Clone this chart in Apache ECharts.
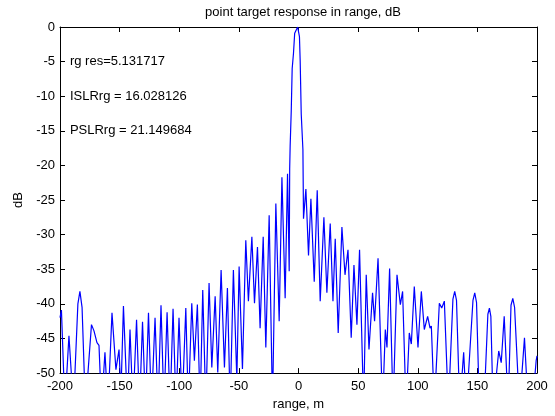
<!DOCTYPE html>
<html>
<head>
<meta charset="utf-8">
<script src="https://cdn.jsdelivr.net/npm/echarts@6/dist/echarts.min.js"></script>
<style>
  html, body { margin: 0; padding: 0; background: #fff; }
  #chart { width: 555px; height: 416px; }
</style>
</head>
<body>
<div id="chart"></div>
<script>
// ---- data (range in m, level in dB) ----
const rangeM = [
  -200, -198.8, -195.9, -192.5, -188.7, -185, -183.3, -181.5, -178.7, -173.6, -171.5, -169.0, -167.3, -165.2, -162.3, -159.8,
  -156.4, -153.1, -150.5, -148.9, -146.8, -143.4, -141.3, -138.8, -135.8, -133.3, -130.8, -128.3, -125.8, -123.3, -120.3, -117.8, -115.3, -112.8, -110.2, -107.7, -105.2, -102.7, -100.2, -97.6,
  -94.5, -92.4, -89.5, -87.3, -84.8, -82.5, -80.3, -77.7, -75.0, -72.7, -69.9, -67.7, -64.9, -62.1, -59.6, -57.3, -54.6, -51.7, -49.8, -47.0,
  -44.2, -42.0, -39.1, -36.9, -34.4, -32.2, -29.6, -27.4, -24.6, -21.8, -19.0, -16.2, -13.9, -11.2, -9.2, -7.8,
  -7.4, -7.0, -6.1, -5.3, -4.2, -3.2, -0.7, 0.8, 1.4, 2.3, 3.7, 4.2,
  6.2, 8.4, 10.4, 13.2, 15.7, 18.2, 21.3, 23.8, 26.6, 28.9, 30.8, 33.3, 36.4, 39.0, 41.5, 44.2, 46.5, 49.0, 51.2, 54.6,
  56.8, 59.1, 62.1, 63.8, 66.7, 70.5, 72.8, 74.2, 76.4, 79.3, 82.6, 85.4, 87.3, 90.2, 92.9, 94.6, 97.1, 100.2,
  103.0, 105.5, 108.3, 110.3, 111.4, 113.9, 118.1, 120.1, 122.3, 125.7, 129.5, 131.0, 132.5, 135.2, 138.5, 140.8, 146.3, 147.8, 149.3, 151.7, 155.5,
  158.8, 160.1, 161.3, 163.2, 167.9, 170.0, 172.5, 175.8, 178.2, 179.7, 181.2, 185.3, 189.5, 192.6, 196.0, 199.3, 200
];
const levelDb = [
  -42, -40.9, -55, -44.6, -55, -40, -38.2, -40.5, -55, -43.0, -43.9, -45.6, -46.0, -55, -47.0, -55,
  -41.3, -49.5, -46.6, -53, -40.3, -55, -43.7, -55, -42.3, -55, -42.6, -55, -41.3, -55, -42.0, -55, -40.2, -55, -41.2, -55, -40.7, -55, -42.0, -55,
  -40.6, -55, -39.9, -48.2, -40.1, -55, -38.0, -55, -37.0, -49.2, -38.9, -49.9, -35.1, -49.2, -37.7, -55, -35.1, -51, -34.6, -49.4,
  -30.8, -39.6, -30.3, -39.9, -31.8, -43.5, -30.3, -46.3, -27.2, -55, -25.5, -42.5, -21.7, -39.2, -21.2, -35.3,
  -20.5, -17.2, -12.2, -6.0, -3.8, -0.9, 0, -1.4, -4.8, -12.6, -17.7, -27.7,
  -23.4, -33.0, -24.8, -36.8, -23.6, -39.6, -27.5, -38.4, -28.4, -39.6, -30.6, -44.2, -28.9, -35.8, -32.2, -44.9, -34.4, -43.0, -32.2, -55,
  -35.8, -46.6, -38.4, -42.5, -33.4, -55, -43.7, -46.3, -34.9, -55, -35.8, -40.1, -38.2, -55, -44.2, -45.8, -37.5, -46.3,
  -38.2, -43.7, -41.8, -43.5, -43.2, -55, -39.9, -40.6, -39.6, -55, -39.3, -38.2, -39.5, -55, -47.0, -55, -39.5, -38.4, -39.8, -55, -55,
  -41.5, -40.6, -41.8, -55, -46.8, -48.5, -41.8, -55, -40.2, -39.2, -40.5, -55, -44.9, -55, -55, -48.2, -47.5
];
const xTicks = { min: -200, max: 200, step: 50 };
const yTicks = { min: -50, max: 0, step: 5 };
const titleText = 'point target response in range, dB';
const xName = 'range, m';
const yName = 'dB';
const notes = ['rg res=5.131717', 'ISLRrg = 16.028126', 'PSLRrg = 21.149684'];
const noteLevels = [-5, -10, -15];
const noteRange = -191.7;

const FONT = 'Liberation Sans, Arial, Helvetica, sans-serif';
const chart = echarts.init(document.getElementById('chart'), null, { renderer: 'canvas' });
const axisCommon = {
  type: 'value',
  axisLine: { show: true, onZero: false, lineStyle: { color: '#000', width: 1 } },
  axisTick: { show: true, inside: true, length: 5, lineStyle: { color: '#000' } },
  splitLine: { show: false },
  axisLabel: { color: '#000', fontSize: 13, fontFamily: FONT }
};
const option = {
  animation: false,
  backgroundColor: '#fff',
  title: {
    text: titleText, left: 298, top: 1, textAlign: 'center',
    textStyle: { color: '#000', fontSize: 13, fontWeight: 'normal', fontFamily: FONT }
  },
  grid: { left: 60, right: 18, top: 27, bottom: 40, containLabel: false },
  xAxis: [
    Object.assign({}, axisCommon, {
      position: 'bottom', min: xTicks.min, max: xTicks.max, interval: xTicks.step,
      axisLabel: Object.assign({}, axisCommon.axisLabel, { margin: 7 }),
      name: xName, nameLocation: 'middle', nameGap: 20,
      nameTextStyle: { color: '#000', fontSize: 13, fontFamily: FONT }
    }),
    Object.assign({}, axisCommon, {
      position: 'top', min: xTicks.min, max: xTicks.max, interval: xTicks.step,
      axisLabel: { show: false }
    })
  ],
  yAxis: [
    Object.assign({}, axisCommon, {
      position: 'left', min: yTicks.min, max: yTicks.max, interval: yTicks.step,
      axisLabel: Object.assign({}, axisCommon.axisLabel, { margin: 5 }),
      name: yName, nameLocation: 'middle', nameGap: 35,
      nameTextStyle: { color: '#000', fontSize: 13, fontFamily: FONT }
    }),
    Object.assign({}, axisCommon, {
      position: 'right', min: yTicks.min, max: yTicks.max, interval: yTicks.step,
      axisLabel: { show: false }
    })
  ],
  series: [{
    type: 'line',
    xAxisIndex: 0, yAxisIndex: 0,
    data: rangeM.map((r, i) => [r, levelDb[i]]),
    showSymbol: false,
    clip: true,
    lineStyle: { color: '#0000ff', width: 1.2 },
    itemStyle: { color: '#0000ff' }
  }]
};
chart.setOption(option);
const graphics = notes.map((t, i) => {
  const p = chart.convertToPixel({ xAxisIndex: 0, yAxisIndex: 0 }, [noteRange, noteLevels[i]]);
  return {
    type: 'text', x: p[0], y: p[1],
    style: { text: t, fill: '#000', font: '13px ' + FONT, textAlign: 'left', textVerticalAlign: 'middle', verticalAlign: 'middle' }
  };
});
chart.setOption({ graphic: graphics });
</script>
</body>
</html>
